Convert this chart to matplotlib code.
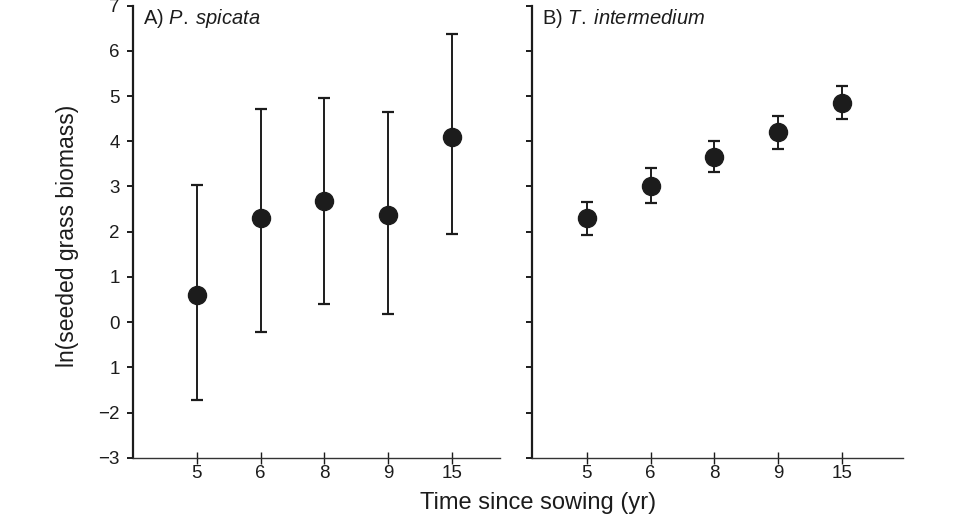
import matplotlib
matplotlib.use("Agg")
import matplotlib.pyplot as plt
from matplotlib.ticker import FixedLocator, FixedFormatter

plt.rcParams['font.family'] = ['Liberation Sans', 'DejaVu Sans']
plt.rcParams['mathtext.fontset'] = 'custom'
plt.rcParams['mathtext.it'] = 'Liberation Sans:italic'
plt.rcParams['mathtext.rm'] = 'Liberation Sans'

years = ["5", "6", "8", "9", "15"]

a_mean = [0.60, 2.31, 2.68, 2.36, 4.10]
a_low = [-1.72, -0.21, 0.41, 0.19, 1.95]
a_high = [3.03, 4.71, 4.95, 4.64, 6.37]

b_mean = [2.30, 3.02, 3.66, 4.21, 4.85]
b_low = [1.93, 2.63, 3.31, 3.84, 4.49]
b_high = [2.66, 3.42, 4.01, 4.57, 5.22]

ytick_vals = [7, 6, 5, 4, 3, 2, 1, 0, -1, -2, -3]
ytick_labels = ["7", "6", "5", "4", "3", "2", "1", "0", "1", "\u22122", "\u22123"]

panel_titles = ["A) $\\it{P.\\;spicata}$", "B) $\\it{T.\\;intermedium}$"]

ink = "#1c1c1c"
fig = plt.figure(figsize=(9.6, 5.18), dpi=100)
fig.patch.set_facecolor("white")

bottom = 1 - 457.7 / 518
height = 452 / 518
axA = fig.add_axes([133 / 960, bottom, (500 - 133) / 960, height])
axB = fig.add_axes([532 / 960, bottom, (903 - 532) / 960, height])

xpos = list(range(1, len(years) + 1))

def draw(ax, mean, low, high, xlim, title, show_labels):
    yerr = [[m - l for m, l in zip(mean, low)], [h - m for m, h in zip(mean, high)]]
    ax.errorbar(xpos, mean, yerr=yerr, fmt='o', color=ink, ecolor=ink,
                markersize=13, elinewidth=1.4, capsize=4.5, capthick=1.6, zorder=3)
    ax.set_xlim(*xlim)
    ax.set_ylim(-3, 7)
    ax.set_facecolor("none")
    for s in ["top", "right"]:
        ax.spines[s].set_visible(False)
    ax.spines["left"].set_linewidth(1.6)
    ax.spines["left"].set_color(ink)
    ax.spines["bottom"].set_linewidth(1.0)
    ax.spines["bottom"].set_color("#333333")
    ax.xaxis.set_major_locator(FixedLocator(xpos))
    ax.xaxis.set_major_formatter(FixedFormatter(years))
    ax.yaxis.set_major_locator(FixedLocator(ytick_vals))
    ax.yaxis.set_major_formatter(FixedFormatter(ytick_labels))
    ax.tick_params(axis='x', direction='inout', length=9, width=1.0, color=ink,
                   labelsize=13.5, labelcolor=ink, pad=1)
    ax.tick_params(axis='y', direction='out', length=4.5, width=1.4, color=ink,
                   labelsize=13.5, labelcolor=ink, pad=5, labelleft=show_labels)
    ax.text(0.027, 0.998, title, transform=ax.transAxes, ha='left', va='top',
            fontsize=14.5, color=ink)

draw(axA, a_mean, a_low, a_high, (0, 5.75), panel_titles[0], True)
draw(axB, b_mean, b_low, b_high, (0.14, 5.96), panel_titles[1], False)

fig.text(0.561, 0.029, "Time since sowing (yr)", ha='center', va='center',
         fontsize=17, color=ink)
fig.text(0.07, 0.544, "ln(seeded grass biomass)", ha='center', va='center',
         rotation=90, fontsize=16.5, color=ink)

fig.savefig("out.png", dpi=100, facecolor="white")
